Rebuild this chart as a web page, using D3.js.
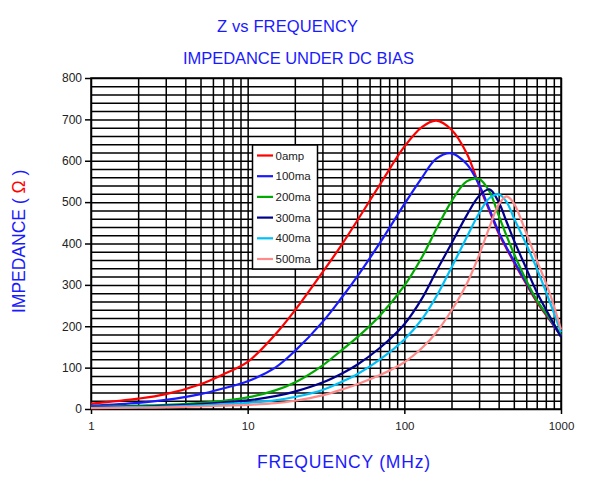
<!DOCTYPE html>
<html>
<head>
<meta charset="utf-8">
<script src="https://cdn.jsdelivr.net/npm/d3@7"></script>
<style>
  html, body { margin: 0; padding: 0; background: #fff; }
  svg { display: block; }
  text { font-family: "Liberation Sans", Arial, sans-serif; }
</style>
</head>
<body>
<svg id="chart" width="600" height="485"></svg>
<script>
// ---- data ----
const frequencies = [1, 2, 3, 5, 7, 10, 15, 20, 30, 40, 50, 70, 100, 130, 160, 200, 250, 300, 350, 400, 450, 500, 600, 700, 850, 1000];
const seriesNames = ["0amp", "100ma", "200ma", "300ma", "400ma", "500ma"];
const z0amp  = [13, 25, 36, 60, 84, 114, 180, 238, 330, 398, 455, 543, 634, 682, 697, 675, 618, 540, 478, 424, 387, 355, 302, 259, 214, 177];
const z100ma = [8, 15, 22, 36, 50, 67, 100, 140, 210, 270, 320, 402, 495, 560, 605, 618, 592, 542, 482, 428, 390, 358, 305, 262, 216, 176];
const z200ma = [5, 8, 10, 15, 20, 28, 45, 64, 105, 143, 173, 226, 298, 368, 435, 502, 550, 556, 525, 468, 418, 376, 311, 263, 218, 180];
const z300ma = [4, 6, 8, 12, 16, 21, 31, 42, 64, 86, 107, 148, 205, 268, 333, 400, 468, 515, 531, 500, 452, 408, 340, 283, 223, 174];
const z400ma = [3, 5, 6, 9, 12, 15, 21, 29, 46, 66, 84, 120, 168, 218, 272, 342, 415, 473, 510, 519, 500, 462, 398, 340, 258, 185];
const z500ma = [2, 3, 4, 6, 8, 10, 14, 20, 33, 47, 60, 82, 113, 148, 185, 238, 302, 372, 440, 494, 514, 497, 425, 360, 278, 192];
const seriesColors = ["#ff0000", "#1a1aff", "#00aa00", "#00008c", "#00c0f8", "#ff8a8a"];
const yTicks = [0, 100, 200, 300, 400, 500, 600, 700, 800];
const xTicks = [1, 10, 100, 1000];
const titleLines = ["Z vs FREQUENCY", "IMPEDANCE UNDER DC BIAS"];

const seriesValues = [z0amp, z100ma, z200ma, z300ma, z400ma, z500ma];

// ---- layout ----
const svg = d3.select("#chart");
const L = 91, R = 561, T = 78, B = 409;
const x = d3.scaleLog().domain([1, 1000]).range([L, R]);
const y = d3.scaleLinear().domain([0, 800]).range([B, T]);

// minor grid values
const xGrid = [];
[1, 10, 100].forEach(d => { for (let k = 1; k < 10; k++) xGrid.push(d * k); });
xGrid.push(1000);
const yGrid = d3.range(0, 801, 20);

const grid = svg.append("g");
grid.append("g").attr("transform", `translate(0,${B})`)
  .call(d3.axisBottom(x).tickValues(xGrid).tickSize(-(B - T)).tickFormat(""))
  .call(g => g.select(".domain").remove())
  .call(g => g.selectAll("line").attr("stroke", "#000").attr("stroke-width", 1.5));
grid.append("g").attr("transform", `translate(${L},0)`)
  .call(d3.axisLeft(y).tickValues(yGrid).tickSize(-(R - L)).tickFormat(""))
  .call(g => g.select(".domain").remove())
  .call(g => g.selectAll("line").attr("stroke", "#000").attr("stroke-width", 1.5));

// frame
svg.append("rect").attr("x", L).attr("y", T).attr("width", R - L).attr("height", B - T)
  .attr("fill", "none").attr("stroke", "#000").attr("stroke-width", 1.5);

// axes with labels
const yAxis = svg.append("g").attr("transform", `translate(${L},0)`)
  .call(d3.axisLeft(y).tickValues(yTicks).tickSize(6).tickPadding(3));
yAxis.select(".domain").remove();
yAxis.selectAll("line").attr("stroke", "#000").attr("stroke-width", 1.5);
yAxis.selectAll("text").attr("font-size", 12).attr("fill", "#222")
  .attr("font-family", "'Liberation Sans', Arial, sans-serif");

const xAxis = svg.append("g").attr("transform", `translate(0,${B})`)
  .call(d3.axisBottom(x).tickValues(xTicks).tickFormat(d3.format("d")).tickSize(5).tickPadding(8));
xAxis.select(".domain").remove();
xAxis.selectAll("line").attr("stroke", "#000").attr("stroke-width", 1.5);
xAxis.selectAll("text").attr("font-size", 11.5).attr("fill", "#222")
  .attr("font-family", "'Liberation Sans', Arial, sans-serif");

// curves
const line = d3.line().x(d => x(d[0])).y(d => y(d[1])).curve(d3.curveCatmullRom.alpha(0.5));
seriesValues.forEach((vals, i) => {
  svg.append("path")
    .datum(frequencies.map((f, j) => [f, vals[j]]))
    .attr("d", line)
    .attr("fill", "none")
    .attr("stroke", seriesColors[i])
    .attr("stroke-width", 2.2)
    .attr("stroke-linejoin", "round");
});

// legend
const lg = svg.append("g");
lg.append("rect").attr("x", 252.5).attr("y", 145).attr("width", 65).attr("height", 124)
  .attr("fill", "#fff").attr("stroke", "#000").attr("stroke-width", 1.5);
seriesNames.forEach((n, i) => {
  const cy = 155.5 + i * 20.7;
  lg.append("line").attr("x1", 257).attr("x2", 273).attr("y1", cy).attr("y2", cy)
    .attr("stroke", seriesColors[i]).attr("stroke-width", 2.2);
  lg.append("text").attr("x", 275.5).attr("y", cy + 4).attr("font-size", 11.5)
    .attr("fill", "#222").text(n);
});

// titles
const blue = "#1a1aff";
svg.append("text").attr("x", 217).attr("y", 32).attr("font-size", 16.5).attr("fill", blue)
  .attr("textLength", 141).attr("lengthAdjust", "spacing").text(titleLines[0]);
svg.append("text").attr("x", 183).attr("y", 64).attr("font-size", 16.5).attr("fill", blue)
  .attr("textLength", 231).attr("lengthAdjust", "spacing").text(titleLines[1]);

// x axis title
svg.append("text").attr("x", 257).attr("y", 468).attr("font-size", 17.5).attr("fill", blue)
  .attr("textLength", 173).attr("lengthAdjust", "spacing").text("FREQUENCY (MHz)");

// y axis title
const yt = svg.append("text").attr("transform", "translate(25,313) rotate(-90)")
  .attr("font-size", 17.5).attr("fill", blue);
yt.append("tspan").text("IMPEDANCE  (  ");
yt.append("tspan").attr("fill", "#ff0000").text("Ω");
yt.append("tspan").text("  )");
</script>
</body>
</html>
